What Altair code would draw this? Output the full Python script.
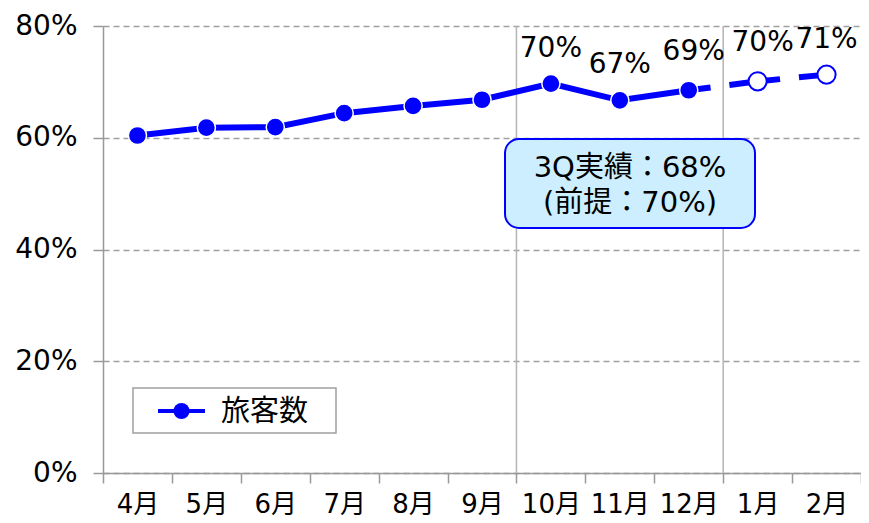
import altair as alt
import pandas as pd

months = ["4月", "5月", "6月", "7月", "8月", "9月", "10月", "11月", "12月", "1月", "2月"]
values = [0.604, 0.618, 0.619, 0.644, 0.657, 0.668, 0.697, 0.667, 0.685, 0.701, 0.713]
actual_n = 9  # 4月..12月 actual, 1月..2月 forecast
label_months = ["10月", "11月", "12月", "1月", "2月"]
label_texts = ["70%", "67%", "69%", "70%", "71%"]
label_shifted = ["12月", "1月"]
divider_months = ["10月", "1月"]
callout_lines = ["3Q実績：68%", "(前提：70%)"]
legend_label = "旅客数"

FONT = "DejaVu Sans, Noto Sans CJK JP"
BLUE = "#0000ff"

df = pd.DataFrame({"month": months, "value": values})
df_actual = df.iloc[:actual_n]
df_fore = df.iloc[actual_n - 1:]
df_fore_pts = df.iloc[actual_n:]
df_labels = df[df["month"].isin(label_months)].copy()
df_labels["label"] = label_texts
df_lab_a = df_labels[~df_labels["month"].isin(label_shifted)]
df_lab_b = df_labels[df_labels["month"].isin(label_shifted)]
df_div = pd.DataFrame({"month": divider_months})
one = pd.DataFrame({"a": [0]})

xscale = alt.Scale(type="band", domain=months, paddingInner=0, paddingOuter=0)
yscale = alt.Scale(domain=[0, 0.8])

x_enc = alt.X("month:N", sort=months, scale=xscale,
              axis=alt.Axis(title=None, grid=False, tickBand="extent", tickSize=10,
                            labelFontSize=26, labelPadding=8, labelAngle=0,
                            domainColor="#999999", tickColor="#999999",
                            domainWidth=1.5, tickWidth=1.5, labelColor="#000000"))
y_enc = alt.Y("value:Q", scale=yscale,
              axis=alt.Axis(title=None, values=[0, 0.2, 0.4, 0.6, 0.8], format=".0%",
                            grid=True, gridDash=[6, 4], gridColor="#a0a0a0", gridWidth=1.5,
                            tickSize=10, labelFontSize=28, labelPadding=16,
                            domainColor="#999999", tickColor="#999999",
                            domainWidth=1.5, tickWidth=1.5, labelColor="#000000"))

base_x = alt.X("month:N", sort=months, scale=xscale)
base_y = alt.Y("value:Q", scale=yscale)

axes_layer = alt.Chart(df).mark_point(opacity=0).encode(x=x_enc, y=y_enc)

dividers = alt.Chart(df_div).mark_rule(color="#b4b4b4", strokeWidth=1.5).encode(
    x=alt.X("month:N", sort=months, scale=xscale, bandPosition=0)
)

line_actual = alt.Chart(df_actual).mark_line(color=BLUE, strokeWidth=6).encode(x=base_x, y=base_y)
line_fore = alt.Chart(df_fore).mark_line(
    color=BLUE, strokeWidth=6, strokeDash=[51, 19], strokeDashOffset=29
).encode(x=base_x, y=base_y)

pts_actual = alt.Chart(df_actual).mark_point(
    filled=True, shape="circle", size=330, color=BLUE, stroke="white", strokeWidth=1.5, opacity=1
).encode(x=base_x, y=base_y)
pts_fore = alt.Chart(df_fore_pts).mark_point(
    filled=True, shape="circle", size=330, fill="white", stroke=BLUE, strokeWidth=2, opacity=1
).encode(x=base_x, y=base_y)

labels_a = alt.Chart(df_lab_a).mark_text(
    fontSize=28, dy=-35, baseline="middle", align="center", color="#000000"
).encode(x=base_x, y=base_y, text="label:N")
labels_b = alt.Chart(df_lab_b).mark_text(
    fontSize=28, dy=-38, dx=5, baseline="middle", align="center", color="#000000"
).encode(x=base_x, y=base_y, text="label:N")

callout_box = alt.Chart(one).mark_rect(
    fill="#cdeeff", stroke=BLUE, strokeWidth=2, cornerRadius=14
).encode(x=alt.value(402), x2=alt.value(652), y=alt.value(113), y2=alt.value(202))
callout_t1 = alt.Chart(one).mark_text(fontSize=29, align="center", baseline="middle", color="#000000").encode(
    x=alt.value(527), y=alt.value(142), text=alt.value(callout_lines[0]))
callout_t2 = alt.Chart(one).mark_text(fontSize=29, align="center", baseline="middle", color="#000000").encode(
    x=alt.value(527), y=alt.value(177), text=alt.value(callout_lines[1]))

leg_box = alt.Chart(one).mark_rect(fill="white", stroke="#a0a0a0", strokeWidth=1.5).encode(
    x=alt.value(30), x2=alt.value(233), y=alt.value(362), y2=alt.value(407))
leg_line = alt.Chart(one).mark_rule(color=BLUE, strokeWidth=4).encode(
    x=alt.value(55), x2=alt.value(102), y=alt.value(385))
leg_pt = alt.Chart(one).mark_point(filled=True, shape="circle", size=260, color=BLUE, opacity=1).encode(
    x=alt.value(78.5), y=alt.value(385))
leg_text = alt.Chart(one).mark_text(fontSize=29, align="left", baseline="middle", color="#000000").encode(
    x=alt.value(118), y=alt.value(386), text=alt.value(legend_label))

chart = alt.layer(
    axes_layer, dividers, line_actual, line_fore, pts_actual, pts_fore, labels_a, labels_b,
    callout_box, callout_t1, callout_t2, leg_box, leg_line, leg_pt, leg_text
).properties(
    width=758, height=447,
    padding={"left": 95, "top": 18, "right": 0, "bottom": 50},
    autosize=alt.AutoSizeParams(type="none"),
).configure(font=FONT).configure_view(stroke=None)

chart.save("out.html", embed_options={"renderer": "svg", "actions": False})
